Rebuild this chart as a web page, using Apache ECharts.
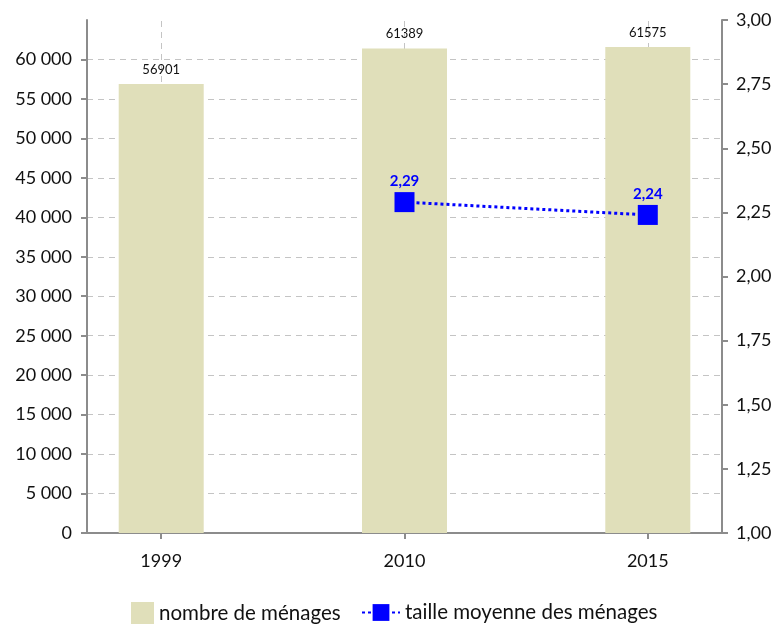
<!DOCTYPE html>
<html lang="fr">
<head>
<meta charset="UTF-8">
<title>Ménages</title>
<style>
    html, body { margin: 0; padding: 0; background: #fff; }
    #echart { width: 780px; height: 624px; }
</style>
</head>
<body>

<div id="echart"></div>

<script src="https://cdn.jsdelivr.net/npm/echarts@6/dist/echarts.min.js"></script>
<script>
    const years = ["1999", "2010", "2015"];
    const households = [56901, 61389, 61575];
    const avgSize = [null, 2.29, 2.24];
    const leftTicks = [0, 5000, 10000, 15000, 20000, 25000, 30000, 35000, 40000, 45000, 50000, 55000, 60000];

    const font = "Lato, 'Open Sans', sans-serif";
    const myChart = echarts.init(document.getElementById("echart"));

    const fmtThousands = (v) => String(v).replace(/\B(?=(\d{3})+(?!\d))/g, " ");
    const fmtComma = (v) => v.toFixed(2).replace(".", ",");
    const gridDash = { color: "#c4c4c4", type: [6, 5], width: 1 };

    const option = {
        animation: false,
        textStyle: { fontFamily: font },
        grid: { left: 87, right: 58, top: 20, bottom: 91 },
        legend: [
            {
                data: [{ name: "nombre de ménages", icon: "rect" }],
                left: 126, top: 597,
                itemWidth: 23, itemHeight: 22,
                textStyle: { fontSize: 20.5, color: "#111", fontFamily: font }
            },
            {
                data: ["taille moyenne des ménages"],
                left: 356, top: 597,
                itemWidth: 38, itemHeight: 21,
                textStyle: { fontSize: 20.5, color: "#111", fontFamily: font }
            }
        ],
        xAxis: {
            type: "value",
            min: -0.305,
            max: 2.305,
            axisLine: { onZero: false, lineStyle: { color: "#8c8c8c", width: 2 } },
            axisTick: { customValues: [0, 1, 2], length: 6, lineStyle: { color: "#8c8c8c", width: 2 } },
            axisLabel: {
                customValues: [0, 1, 2],
                formatter: (v) => years[Math.round(v)],
                fontSize: 18, color: "#111", margin: 19
            },
            splitLine: { show: false }
        },
        yAxis: [
            {
                type: "value",
                min: 0, max: 65000, interval: 5000,
                axisLine: { show: true, onZero: false, lineStyle: { color: "#8c8c8c", width: 2 } },
                axisTick: { show: true, customValues: leftTicks, length: 6, lineStyle: { color: "#8c8c8c", width: 2 } },
                axisLabel: {
                    customValues: leftTicks,
                    formatter: (v) => fmtThousands(v),
                    fontSize: 18, color: "#111", margin: 15
                },
                splitLine: { lineStyle: gridDash }
            },
            {
                type: "value",
                min: 1, max: 3, interval: 0.25,
                position: "right",
                axisLine: { show: true, onZero: false, lineStyle: { color: "#8c8c8c", width: 2 } },
                axisTick: { show: true, length: 6, lineStyle: { color: "#8c8c8c", width: 2 } },
                axisLabel: { formatter: (v) => fmtComma(v), fontSize: 18, color: "#111", margin: 14 },
                splitLine: { show: false }
            }
        ],
        series: [
            {
                name: "nombre de ménages",
                type: "bar",
                z: 2,
                barWidth: 85,
                itemStyle: { color: "#e0dfba" },
                label: { show: true, position: "top", fontSize: 13, color: "#111", distance: 8,
                         formatter: (p) => p.value[1] },
                markLine: {
                    silent: true,
                    z: 1,
                    symbol: "none",
                    label: { show: false },
                    lineStyle: gridDash,
                    data: years.map((y, i) => ({ xAxis: i }))
                },
                data: households.map((v, i) => [i, v])
            },
            {
                name: "taille moyenne des ménages",
                type: "line",
                yAxisIndex: 1,
                z: 4,
                symbol: "rect",
                symbolSize: 20,
                itemStyle: { color: "#0000ff" },
                lineStyle: { color: "#0000ff", width: 3, type: [3, 3] },
                label: { show: true, position: "top", fontSize: 15, fontWeight: "bold", color: "#0000ff",
                         distance: 3, formatter: (p) => fmtComma(p.value[1]) },
                data: avgSize.map((v, i) => [i, v])
            }
        ]
    };

    myChart.setOption(option);
</script>

</body>
</html>
